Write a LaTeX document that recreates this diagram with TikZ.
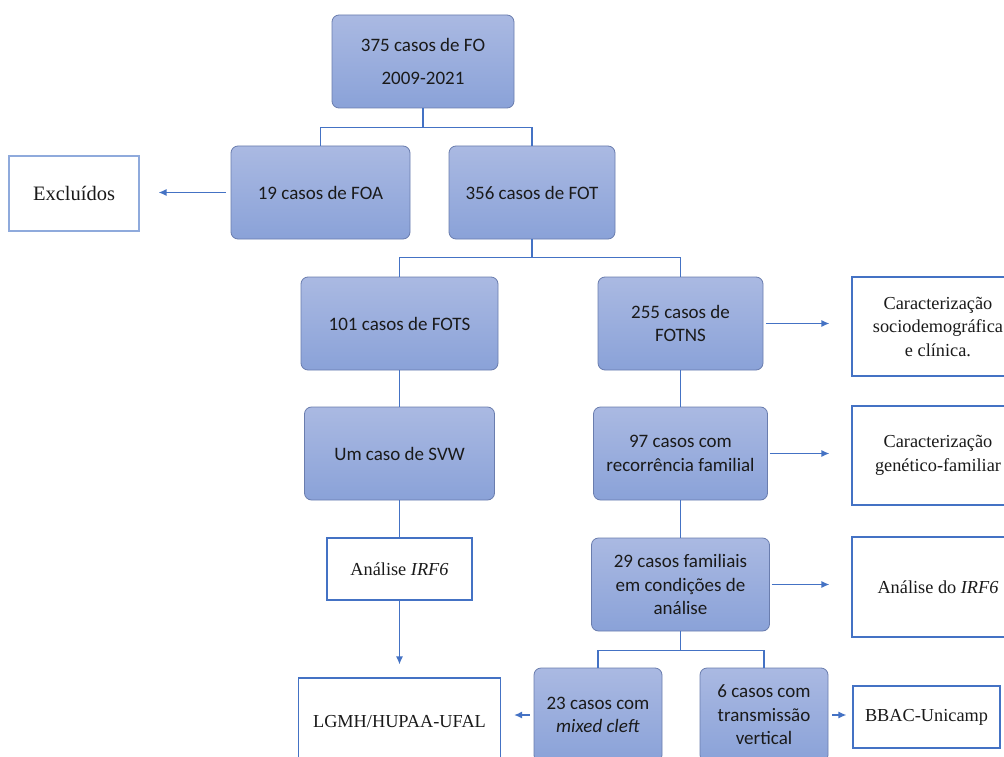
\documentclass[tikz,border=0pt]{standalone}
\usepackage{fontspec}
\setmainfont{Liberation Serif}
\newfontfamily\calfont{Carlito}
\usetikzlibrary{arrows.meta}
\definecolor{conncol}{HTML}{4472C4}
\definecolor{lightconn}{HTML}{8FAADC}
\definecolor{btop}{HTML}{AAB9E2}
\definecolor{bbot}{HTML}{8AA2D8}
\definecolor{bdraw}{HTML}{6A7DAE}
\definecolor{txt}{HTML}{1A1A1A}
\begin{document}
\begin{tikzpicture}[x=1pt,y=-1pt,
 bluebox/.style={draw=bdraw, line width=0.8pt, rounded corners=7pt, top color=btop, bottom color=bbot,
   font=\calfont\fontsize{19}{23.5}\selectfont, text=txt, align=center, inner sep=0pt},
 whitebox/.style={draw=conncol, line width=1.2pt, fill=white,
   font=\fontsize{18.3}{23.5}\selectfont, text=txt, align=center, inner sep=0pt},
 conn/.style={draw=conncol, line width=1.3pt},
 arr/.style={conn, -{Latex[length=8pt,width=7pt]}}
]
\useasboundingbox (0,0) rectangle (1004,757);
\fill[white] (0,0) rectangle (1004,757);
\clip (0,0) rectangle (1004,757);

% blue boxes
\node[bluebox, minimum width=182pt, minimum height=93pt] (top) at (423,61.5) {375 casos de FO\\[9pt]2009-2021};
\node[bluebox, minimum width=179pt, minimum height=93pt] (foa) at (320.5,192.5) {19 casos de FOA};
\node[bluebox, minimum width=166pt, minimum height=93pt] (fot) at (532,192.5) {356 casos de FOT};
\node[bluebox, minimum width=197pt, minimum height=93pt] (fots) at (399.5,323.5) {101 casos de FOTS};
\node[bluebox, minimum width=165pt, minimum height=93pt] (fotns) at (680.5,323.5) {255 casos de\\FOTNS};
\node[bluebox, minimum width=190pt, minimum height=93pt] (svw) at (399.5,453.5) {Um caso de SVW};
\node[bluebox, minimum width=174pt, minimum height=93pt] (n97) at (680.5,453.5) {97 casos com\\recorrência familial};
\node[bluebox, minimum width=178pt, minimum height=93pt] (n29) at (680.5,584.5) {29 casos familiais\\em condições de\\análise};
\node[bluebox, minimum width=128pt, minimum height=94pt] (n23) at (598,715) {23 casos com\\\textit{mixed cleft}};
\node[bluebox, minimum width=128pt, minimum height=94pt] (n6) at (764,715) {6 casos com\\transmissão\\vertical};

% white boxes
\node[whitebox, draw=lightconn, minimum width=130pt, minimum height=75pt, font=\fontsize{20.5}{24}\selectfont] (excl) at (74,193.5) {Excluídos};
\node[whitebox, minimum width=172pt, minimum height=99pt] (r1) at (938,326.5) {Caracterização\\sociodemográfica\\e clínica.};
\node[whitebox, minimum width=172pt, minimum height=99pt] (r2) at (938,455.5) {Caracterização\\genético-familiar};
\node[whitebox, minimum width=172pt, minimum height=100pt] (r3) at (938,587) {Análise do \textit{IRF6}};
\node[whitebox, minimum width=145pt, minimum height=62pt] (an) at (399.5,569) {Análise \textit{IRF6}};
\node[whitebox, minimum width=202pt, minimum height=88pt] (lgmh) at (399.5,722) {LGMH/HUPAA-UFAL};
\node[whitebox, minimum width=147pt, minimum height=62pt] (bbac) at (926.5,717) {BBAC-Unicamp};

% tree connectors
\draw[conn] (top.south) -- ++(0,19) -| (foa.north);
\draw[conn] (top.south) ++(0,19) -| (fot.north);
\draw[conn] (fot.south) -- ++(0,18) -| (fots.north);
\draw[conn] (fot.south) ++(0,18) -| (fotns.north);
\draw[conn] (fots.south) -- (svw.north);
\draw[conn] (svw.south) -- (an.north);
\draw[conn] (fotns.south) -- (n97.north);
\draw[conn] (n97.south) -- (n29.north);
\draw[conn] (n29.south) -- ++(0,19) -| (n23.north);
\draw[conn] (n29.south) ++(0,19) -| (n6.north);

% arrows
\draw[arr, shorten <=5pt, shorten >=19pt] (foa.west) -- (foa.west -| excl.east);
\draw[arr, shorten <=3pt, shorten >=22pt] (fotns.east) -- (fotns.east -| r1.west);
\draw[arr, shorten <=2pt, shorten >=22pt] (n97.east) -- (n97.east -| r2.west);
\draw[arr, shorten <=2pt, shorten >=22pt] (n29.east) -- (n29.east -| r3.west);
\draw[arr, shorten >=13pt] (an.south) -- (an.south |- lgmh.north);
\draw[arr, shorten <=4pt, shorten >=13pt] (n23.west) -- (n23.west -| lgmh.east);
\draw[arr, shorten <=4pt, shorten >=6pt] (n6.east) -- (n6.east -| bbac.west);
\end{tikzpicture}
\end{document}
